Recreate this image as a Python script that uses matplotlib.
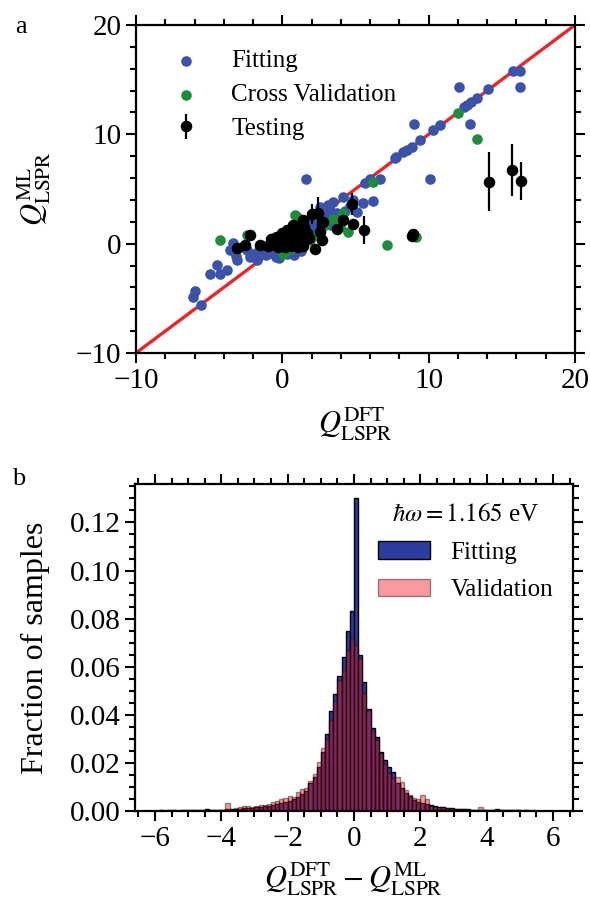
import matplotlib
matplotlib.use("Agg")
import matplotlib.pyplot as plt
import numpy as np

plt.rcParams['font.family'] = ['Liberation Serif', 'DejaVu Serif']
plt.rcParams['mathtext.fontset'] = 'stix'
plt.rcParams['axes.unicode_minus'] = True

# ---- panel a data: (DFT, ML) pairs ----
fit_x = [15.79, 16.24, 16.24, 12.1, 14.08, 13.29, 12.6, 12.4, 12.9, 12.83, 9.0, 10.32, 10.78, 9.41,
         8.84, 8.27, 7.7, 7.8, 8.5, 5.65, 5.99, 6.67, 1.62, 10.1, 4.17, 3.49, 4.85, 5.54, 6.22, 5.08,
         3.26, 3.72, 2.35, 0.98, 1.67, 2.58, 3.15, 4.3, 4.6,
         -3.57, -3.34, -3.11, -3.2, -2.43, -2.2, -1.75, -1.97, -4.48, -4.94, -4.25, -3.8, -5.97,
         -6.08, -5.56, -0.4, -0.6, -1.0, -1.3, -0.8, -0.2, 0.5, 0.9, 1.3, 1.9, 2.3, 2.8, 3.0, 1.1,
         0.2, -1.6, -2.7, -1.2, 0.6, 2.0, 2.6, 3.3, 0.3, 1.5, -0.4, -1.1, -0.2, 0.8, 1.3]
fit_y = [15.82, 15.8, 14.36, 14.36, 14.12, 13.29, 12.68, 12.5, 13.0, 10.94, 10.94, 10.39, 10.85, 9.48,
         8.87, 8.4, 7.8, 7.9, 8.6, 5.52, 5.88, 5.88, 5.88, 5.88, 4.29, 3.84, 3.99, 3.69, 3.9, 2.92,
         3.08, 2.77, 2.16, 2.47, 1.86, 3.38, 3.53, 3.0, 3.4,
         -0.59, 0.02, -1.5, -1.1, -0.59, -1.2, -1.5, -0.9, -1.96, -2.73, -2.73, -2.42, -4.3,
         -4.85, -5.62, -1.2, -0.9, -0.4, -0.2, 0.3, -0.6, -0.3, 0.5, 1.0, 1.3, 1.6, 2.0, 2.4, -0.5,
         0.8, -0.6, -0.3, -0.9, 1.3, 0.8, 1.2, 1.7, -0.9, 0.2, 0.5, -1.0, -1.3, -1.0, -0.7]

cv_x = [11.99, 13.29, 6.18, -4.26, -2.43, 7.13, 9.14, 0.87, 0.98, 1.9, 2.93, 3.49, 3.95, 4.52,
        4.17, 2.0, 0.07, 1.44, -0.5, 1.2, 0.5, 2.5]
cv_y = [11.92, 9.54, 5.67, 0.33, 0.78, -0.13, 0.57, 2.62, 0.94, 0.33, 1.71, 2.3, 1.56, 1.1,
        2.77, 0.63, -0.9, 0.02, 0.6, 1.4, -0.5, 0.9]

test_x = [14.15, 15.72, 16.32, 4.74, 5.61, 2.46, 2.0, 8.95, 8.84, 2.24, 4.17, 4.85, 3.72, 2.76,
          2.58, 2.7, 1.44, 1.49, -3.11, -2.54, -2.2, -1.52, -0.83,
          -0.38, -0.04, 0.30, 0.53, 0.76, 0.98, 0.18, -0.16, 1.21, 0.76, 1.67, 1.33, 0.41, 0.07,
          0.98, -0.6, -1.0, 0.2, 0.6, 1.1, -0.3, 1.8, 0.4, -0.8, 1.4, 0.9]
test_y = [5.67, 6.73, 5.76, 3.6, 1.24, 2.83, 2.7, 0.85, 0.7, -0.52, 2.16, 1.8, 1.33, 1.95,
          1.03, 0.36, 2.16, 1.56, -0.38, -0.13, 0.78, -0.13, -0.13,
          0.63, 0.94, 1.24, 0.33, 0.78, 0.02, -0.28, 0.02, 1.4, 1.71, 0.94, 0.33, 0.63, 0.33,
          0.63, 0.1, -0.2, 0.0, -0.2, -0.3, -0.3, 0.5, 1.0, 0.4, -0.2, 1.1]
test_err = [2.7, 2.4, 1.75, 1.0, 1.3, 1.45, 0.9, 0.2, 0.2, 0.5, 0.2, 0.3, 0.2, 0.3,
            0.4, 0.3, 0.3, 0.2, 0.2, 0.3, 0.2, 0.2, 0.2,
            0.3, 0.2, 0.3, 0.2, 0.3, 0.2, 0.3, 0.2, 0.3, 0.2, 0.3, 0.2, 0.2, 0.3,
            0.2, 0.2, 0.3, 0.2, 0.2, 0.3, 0.2, 0.3, 0.2, 0.2, 0.3, 0.2]

# ---- panel b data: histogram of residuals, bins of 0.125 from -6 to 6 ----
bin_edges = np.arange(-6.0, 6.0 + 1e-9, 0.125)
fit_frac = [0.0002, 0.0003, 0.0002, 0.0003, 0.0003, 0.0002, 0.0003, 0.0004,
            0.0003, 0.0004, 0.0003, 0.0005, 0.0008, 0.0006, 0.0004, 0.0005,
            0.0006, 0.0007, 0.0008, 0.0009, 0.0010, 0.0011, 0.0012, 0.0013,
            0.0015, 0.0017, 0.0019, 0.0022, 0.0025, 0.0028, 0.0032, 0.0036,
            0.0042, 0.0048, 0.0058, 0.0072, 0.0085, 0.0115, 0.0140, 0.0185,
            0.0245, 0.0322, 0.0414, 0.0485, 0.0562, 0.0642, 0.0747, 0.0830,
            0.1300, 0.0650, 0.0536, 0.0426, 0.0347, 0.0308, 0.0244, 0.0214,
            0.0183, 0.0162, 0.0117, 0.0094, 0.0074, 0.0061, 0.0047, 0.0039,
            0.0033, 0.0029, 0.0025, 0.0021, 0.0018, 0.0015, 0.0013, 0.0011,
            0.0010, 0.0009, 0.0008, 0.0007, 0.0006, 0.0006, 0.0005, 0.0005,
            0.0004, 0.0005, 0.0008, 0.0004, 0.0003, 0.0004, 0.0003, 0.0003,
            0.0002, 0.0003, 0.0002, 0.0002, 0.0002, 0.0001, 0.0002, 0.0001]
val_frac = [0.0002, 0.0003, 0.0002, 0.0002, 0.0003, 0.0002, 0.0002, 0.0003,
            0.0002, 0.0003, 0.0002, 0.0003, 0.0004, 0.0003, 0.0002, 0.0003,
            0.0006, 0.0032, 0.0005, 0.0011, 0.0018, 0.0020, 0.0020, 0.0018,
            0.0021, 0.0025, 0.0024, 0.0031, 0.0038, 0.0042, 0.0048, 0.0052,
            0.0062, 0.0060, 0.0080, 0.0090, 0.0095, 0.0125, 0.0155, 0.0205,
            0.0260, 0.0300, 0.0380, 0.0456, 0.0546, 0.0588, 0.0670, 0.0720,
            0.0690, 0.0635, 0.0492, 0.0420, 0.0332, 0.0294, 0.0240, 0.0197,
            0.0156, 0.0136, 0.0140, 0.0122, 0.0088, 0.0067, 0.0053, 0.0049,
            0.0067, 0.0049, 0.0021, 0.0018, 0.0016, 0.0015, 0.0012, 0.0010,
            0.0009, 0.0008, 0.0007, 0.0006, 0.0005, 0.0006, 0.0017, 0.0004,
            0.0003, 0.0004, 0.0005, 0.0004, 0.0004, 0.0005, 0.0006, 0.0005,
            0.0004, 0.0003, 0.0003, 0.0003, 0.0002, 0.0002, 0.0002, 0.0001]

BLUE = '#3a52a8'
HIST_BLUE = '#2d3ca0'
HIST_RED = '#f0101e'
GREEN = '#1f8c3b'
RED = '#e8262a'


def style_axes(ax):
    for sp in ax.spines.values():
        sp.set_linewidth(1.6)
    ax.tick_params(which='both', direction='out', top=True, right=True, width=1.5,
                   labelsize=21)
    ax.tick_params(which='major', length=7)
    ax.tick_params(which='minor', length=4)


def main():
    fig = plt.figure(figsize=(5.9, 8.99), dpi=100)

    # panel a
    ax = fig.add_axes([136 / 590, 1 - 353 / 899, 439 / 590, 328 / 899])
    ax.plot([-10, 20], [-10, 20], color=RED, lw=2.4, zorder=1)
    ax.scatter(fit_x, fit_y, s=58, color=BLUE, lw=0, label='Fitting', zorder=2)
    ax.scatter(cv_x, cv_y, s=58, color=GREEN, lw=0, label='Cross Validation', zorder=3)
    ax.errorbar(test_x, test_y, yerr=test_err, fmt='o', color='black', ms=7.3,
                elinewidth=1.6, capsize=0, label='Testing', zorder=4)
    ax.set_xlim(-10, 20)
    ax.set_ylim(-10, 20)
    ax.set_xticks([-10, 0, 10, 20])
    ax.set_yticks([-10, 0, 10, 20])
    ax.set_xticks(np.arange(-10, 21, 2), minor=True)
    ax.set_yticks(np.arange(-10, 21, 2), minor=True)
    style_axes(ax)
    ax.set_xlabel(r'$Q^{\rm DFT}_{\rm LSPR}$', fontsize=22)
    ax.set_ylabel(r'$Q^{\rm ML}_{\rm LSPR}$', fontsize=22)
    ax.xaxis.set_label_coords(0.5, -0.16)
    ax.yaxis.set_label_coords(-0.19, 0.5)
    ax.legend(loc='upper left', frameon=False, fontsize=18, labelspacing=0.45,
              borderaxespad=0.6, handletextpad=0.8)

    # panel b
    bx = fig.add_axes([135 / 590, 1 - 811 / 899, 438 / 590, 327 / 899])
    centers = 0.5 * (bin_edges[:-1] + bin_edges[1:])
    bx.hist(centers, bins=bin_edges, weights=fit_frac, color=HIST_BLUE, edgecolor='black',
            linewidth=1.0, label='Fitting')
    bx.hist(centers, bins=bin_edges, weights=val_frac, color=HIST_RED, edgecolor='black',
            linewidth=1.0, alpha=0.42, label='Validation')
    bx.set_xlim(-6.6, 6.6)
    bx.set_ylim(0, 0.136)
    bx.set_xticks(np.arange(-6, 7, 2))
    bx.set_xticks(np.arange(-6.5, 6.6, 0.5), minor=True)
    bx.set_yticks(np.arange(0, 0.121, 0.02))
    bx.set_yticks(np.arange(0, 0.136, 0.005), minor=True)
    bx.yaxis.set_major_formatter(matplotlib.ticker.FormatStrFormatter('%.2f'))
    style_axes(bx)
    bx.set_xlabel(r'$Q^{\rm DFT}_{\rm LSPR} - Q^{\rm ML}_{\rm LSPR}$', fontsize=22)
    bx.set_ylabel('Fraction of samples', fontsize=23)
    bx.xaxis.set_label_coords(0.5, -0.15)
    bx.yaxis.set_label_coords(-0.195, 0.5)
    leg = bx.legend(loc='upper right', frameon=False, fontsize=18,
                    title=r'$\hbar\omega = 1.165$ eV', title_fontsize=18,
                    handlelength=2.1, labelspacing=0.6, borderaxespad=0.4,
                    handletextpad=0.8)
    leg._legend_box.align = 'center'

    fig.text(15 / 590, 1 - 33 / 899, 'a', fontsize=19)
    fig.text(12 / 590, 1 - 485 / 899, 'b', fontsize=19)

    fig.savefig('out.png', dpi=100)


if __name__ == '__main__':
    main()
